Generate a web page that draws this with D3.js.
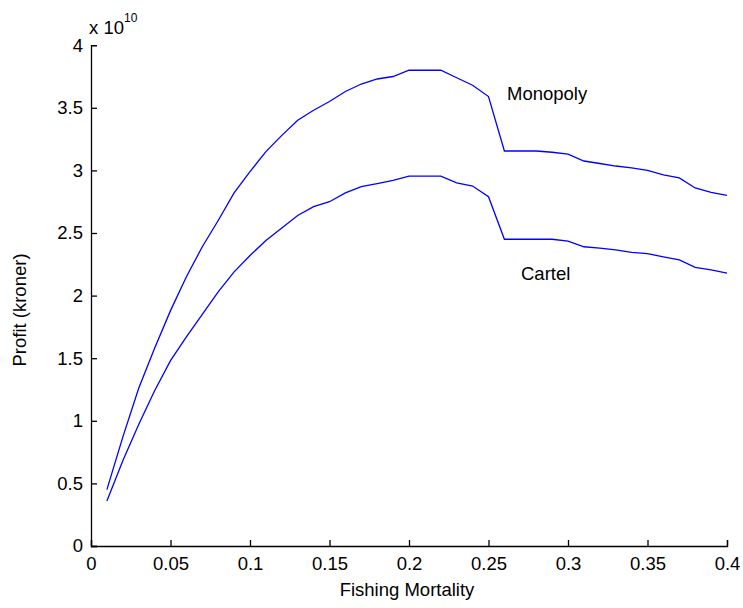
<!DOCTYPE html>
<html>
<head>
<meta charset="utf-8">
<script src="https://cdn.jsdelivr.net/npm/d3@7"></script>
<style>
  body { margin: 0; background: #fff; }
  text { font-family: "Liberation Sans", Arial, sans-serif; fill: #000; }
</style>
</head>
<body>
<svg id="chart" width="743" height="608"></svg>
<script>
var mortality = [0.01, 0.02, 0.03, 0.04, 0.05, 0.06, 0.07, 0.08, 0.09, 0.10,
	0.11, 0.12, 0.13, 0.14, 0.15, 0.16, 0.17, 0.18, 0.19, 0.20,
	0.21, 0.22, 0.23, 0.24, 0.25, 0.26, 0.27, 0.28, 0.29, 0.30,
	0.31, 0.32, 0.33, 0.34, 0.35, 0.36, 0.37, 0.38, 0.39, 0.40];

// profit in units of 1e10 kroner
var monopoly = [0.45, 0.87, 1.26, 1.58, 1.88, 2.15, 2.39, 2.60, 2.82, 2.99,
	3.15, 3.28, 3.40, 3.48, 3.55, 3.63, 3.69, 3.73, 3.75, 3.80,
	3.80, 3.80, 3.74, 3.68, 3.59, 3.155, 3.155, 3.155, 3.145, 3.13,
	3.075, 3.055, 3.035, 3.02, 3.0, 2.965, 2.94, 2.86, 2.825, 2.80];

var cartel = [0.36, 0.68, 0.97, 1.24, 1.48, 1.67, 1.85, 2.03, 2.19, 2.32,
	2.44, 2.54, 2.64, 2.71, 2.75, 2.82, 2.87, 2.895, 2.92, 2.955,
	2.955, 2.955, 2.90, 2.875, 2.79, 2.45, 2.45, 2.45, 2.45, 2.435,
	2.39, 2.38, 2.365, 2.345, 2.335, 2.31, 2.285, 2.225, 2.205, 2.18];

var xTicks = [0, 0.05, 0.1, 0.15, 0.2, 0.25, 0.3, 0.35, 0.4];
var yTicks = [0, 0.5, 1, 1.5, 2, 2.5, 3, 3.5, 4];

var FONT = "18.5px";

var svg = d3.select("#chart");

var x = d3.scaleLinear().domain([0, 0.4]).range([91, 727]);
var y = d3.scaleLinear().domain([0, 4]).range([546, 45.2]);

// axes, ticks pointing inward
var xAxis = svg.append("g")
	.attr("transform", "translate(0,546)")
	.call(d3.axisBottom(x).tickValues(xTicks).tickSize(-6).tickPadding(11)
		.tickFormat(function (d) { return d3.format("")(d); }));

var yAxis = svg.append("g")
	.attr("transform", "translate(91,0)")
	.call(d3.axisLeft(y).tickValues(yTicks).tickSize(-6).tickPadding(8)
		.tickFormat(function (d) { return d3.format("")(d); }));

[xAxis, yAxis].forEach(function (g) {
	g.select(".domain").attr("stroke", "#000").attr("stroke-width", 1.3);
	g.selectAll(".tick line").attr("stroke", "#000").attr("stroke-width", 1.3);
	g.selectAll(".tick text").style("font-size", FONT)
		.style("font-family", "Liberation Sans, Arial, sans-serif");
});

var line = d3.line()
	.x(function (d, i) { return x(mortality[i]); })
	.y(function (d) { return y(d); });

svg.append("path")
	.datum(monopoly)
	.attr("d", line)
	.attr("fill", "none")
	.attr("stroke", "#0000ff")
	.attr("stroke-width", 1.3);

svg.append("path")
	.datum(cartel)
	.attr("d", line)
	.attr("fill", "none")
	.attr("stroke", "#0000ff")
	.attr("stroke-width", 1.3);

// labels
svg.append("text")
	.attr("x", 507)
	.attr("y", 100)
	.style("font-size", FONT)
	.text("Monopoly");

svg.append("text")
	.attr("x", 521)
	.attr("y", 280)
	.style("font-size", FONT)
	.text("Cartel");

var expo = svg.append("text")
	.attr("x", 89)
	.attr("y", 33.5)
	.style("font-size", FONT);
expo.append("tspan").text("x 10");
expo.append("tspan").attr("dy", -11.5).style("font-size", "12px").text("10");

svg.append("text")
	.attr("x", 407)
	.attr("y", 596)
	.attr("text-anchor", "middle")
	.style("font-size", FONT)
	.text("Fishing Mortality");

svg.append("text")
	.attr("transform", "translate(26,310) rotate(-90)")
	.attr("text-anchor", "middle")
	.style("font-size", FONT)
	.text("Profit (kroner)");
</script>
</body>
</html>
